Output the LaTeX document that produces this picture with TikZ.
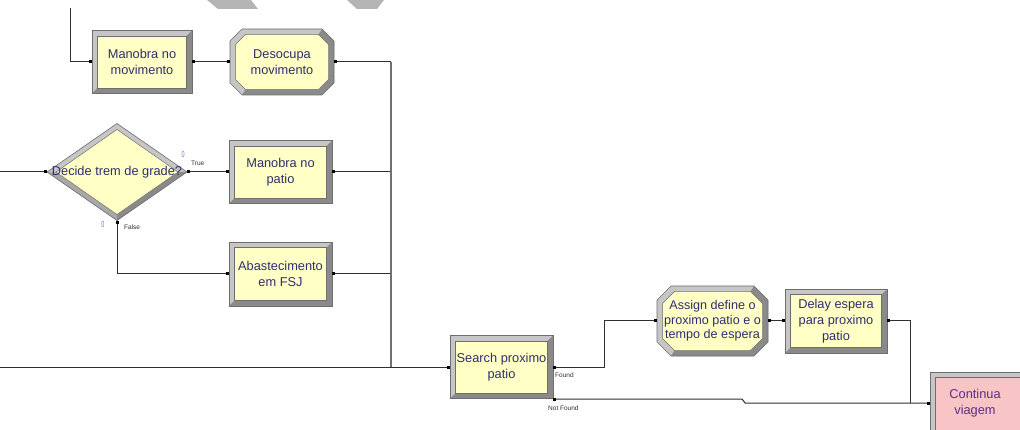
\documentclass[tikz,border=0pt]{standalone}
\usepackage{fontspec}
\setmainfont{Liberation Sans}
\usetikzlibrary{calc}
\definecolor{modyel}{HTML}{FFFFC6}
\definecolor{modpink}{HTML}{F8C4C6}
\definecolor{bevlt}{HTML}{C6C6C6}
\definecolor{bevmd}{HTML}{A8A8A8}
\definecolor{bevdk}{HTML}{8A8A8A}
\definecolor{bevedge}{HTML}{6E6E6E}
\definecolor{txtblue}{HTML}{2E2E70}
\definecolor{txtpurp}{HTML}{5A2E86}
\definecolor{wire}{HTML}{303030}
\definecolor{busgray}{HTML}{707070}
\definecolor{wmark}{HTML}{B4B4B4}
\definecolor{zeroblue}{HTML}{7474C4}

\newcommand\bevbox[5]{%
 \begin{scope}[shift={(#1,#2)}]
 \pgfmathsetmacro\ha{#3/2}\pgfmathsetmacro\hb{#4/2}%
 \pgfmathsetmacro\ia{\ha-5.5}\pgfmathsetmacro\ib{\hb-5.5}%
 \fill[bevlt] (-\ha,-\hb) rectangle (\ha,\hb);
 \fill[bevdk] (\ha,-\hb) -- (\ha,\hb) -- (-\ha,\hb) -- (-\ia,\ib) -- (\ia,\ib) -- (\ia,-\ib) -- cycle;
 \draw[bevedge,line width=0.6pt] (-\ha,-\hb) rectangle (\ha,\hb);
 \filldraw[fill=#5,draw=bevedge,line width=0.5pt] (-\ia,-\ib) rectangle (\ia,\ib);
 \end{scope}}

\newcommand\bevoct[6]{%
 \begin{scope}[shift={(#1,#2)}]
 \pgfmathsetmacro\ha{#3/2}\pgfmathsetmacro\hb{#4/2}%
 \pgfmathsetmacro\ia{\ha-5.5}\pgfmathsetmacro\ib{\hb-5.5}%
 \pgfmathsetmacro\cc{#5}\pgfmathsetmacro\ic{#5-2}%
 \fill[bevlt] (-\ha+\cc,-\hb) -- (\ha-\cc,-\hb) -- (\ha,-\hb+\cc) -- (\ha,\hb-\cc) -- (\ha-\cc,\hb) -- (-\ha+\cc,\hb) -- (-\ha,\hb-\cc) -- (-\ha,-\hb+\cc) -- cycle;
 \fill[bevdk] (\ha-\cc,-\hb) -- (\ha,-\hb+\cc) -- (\ha,\hb-\cc) -- (\ha-\cc,\hb) -- (-\ha+\cc,\hb) -- (-\ia+\ic,\ib) -- (\ia-\ic,\ib) -- (\ia,\ib-\ic) -- (\ia,-\ib+\ic) -- (\ia-\ic,-\ib) -- cycle;
 \draw[bevedge,line width=0.6pt] (-\ha+\cc,-\hb) -- (\ha-\cc,-\hb) -- (\ha,-\hb+\cc) -- (\ha,\hb-\cc) -- (\ha-\cc,\hb) -- (-\ha+\cc,\hb) -- (-\ha,\hb-\cc) -- (-\ha,-\hb+\cc) -- cycle;
 \filldraw[fill=#6,draw=bevedge,line width=0.5pt] (-\ia+\ic,-\ib) -- (\ia-\ic,-\ib) -- (\ia,-\ib+\ic) -- (\ia,\ib-\ic) -- (\ia-\ic,\ib) -- (-\ia+\ic,\ib) -- (-\ia,\ib-\ic) -- (-\ia,-\ib+\ic) -- cycle;
 \end{scope}}

\newcommand\bevdia[4]{%
 \begin{scope}[shift={(#1,#2)}]
 \pgfmathsetmacro\ha{#3/2}\pgfmathsetmacro\hb{#4/2}%
 \pgfmathsetmacro\ia{\ha-9}\pgfmathsetmacro\ib{\hb-6}%
 \fill[bevlt] (-\ha,0) -- (0,-\hb) -- (\ha,0) -- (0,\hb) -- cycle;
 \fill[bevmd] (-\ha,0) -- (0,\hb) -- (0,\ib) -- (-\ia,0) -- cycle;
 \fill[bevdk] (\ha,0) -- (0,\hb) -- (0,\ib) -- (\ia,0) -- cycle;
 \draw[bevedge,line width=0.6pt] (-\ha,0) -- (0,-\hb) -- (\ha,0) -- (0,\hb) -- cycle;
 \filldraw[fill=modyel,draw=bevedge,line width=0.5pt] (-\ia,0) -- (0,-\ib) -- (\ia,0) -- (0,\ib) -- cycle;
 \end{scope}}

\tikzset{
 modtext/.style={font=\fontsize{12.8}{16}\selectfont, text=txtblue, align=center, inner sep=0pt},
 wirel/.style={draw=wire, line width=1pt},
 busl/.style={draw=busgray, line width=1.8pt},
 port/.style={fill=black, inner sep=0pt, minimum size=3pt},
 lbl/.style={font=\fontsize{6.5}{7}\selectfont, text=wire, inner sep=0pt},
 zero/.style={font=\fontsize{9}{9}\selectfont, text=zeroblue, inner sep=0pt, xscale=0.6},
}

\begin{document}
\begin{tikzpicture}[x=1pt,y=-1pt]
\useasboundingbox (0,0) rectangle (1020,430);
\clip (0,0) rectangle (1020,430);
\fill[white] (0,0) rectangle (1020,430);
% watermark fragments
\fill[wmark] (207,0) -- (251,0) -- (258,9) -- (218,9) -- cycle;
\fill[wmark] (347,0) -- (384,0) -- (377,9) -- (357,9) -- cycle;

% module bodies
\bevbox{142}{62}{100}{63}{modyel}
\bevoct{282}{62}{104}{66}{12}{modyel}
\bevdia{117}{172}{140}{97}
\bevbox{280.5}{172}{103}{63}{modyel}
\bevbox{280.5}{274}{103}{64}{modyel}
\bevbox{501.5}{367}{103}{63}{modyel}
\bevoct{712.5}{321}{111}{70}{14}{modyel}
\bevbox{836}{321}{102}{64}{modyel}
\bevbox{980}{405}{100}{66}{modpink}

% module nodes
\node[modtext, minimum width=100pt, minimum height=63pt] (mm) at (142,62) {Manobra no\\movimento};
\node[modtext, minimum width=104pt, minimum height=66pt] (dm) at (282,62) {Desocupa\\movimento};
\node[modtext, minimum width=140pt, minimum height=97pt] (dc) at (117,172) {Decide trem de grade?};
\node[modtext, minimum width=103pt, minimum height=63pt] (mp) at (280.5,172) {Manobra no\\patio};
\node[modtext, minimum width=103pt, minimum height=64pt] (ab) at (280.5,274) {Abastecimento\\em FSJ};
\node[modtext, minimum width=103pt, minimum height=63pt] (sp) at (501.5,367) {Search proximo\\patio};
\node[modtext, font=\fontsize{12.6}{14.5}\selectfont, minimum width=111pt, minimum height=70pt] (as) at (712.5,321) {Assign define o\\proximo patio e o\\tempo de espera};
\node[modtext, minimum width=102pt, minimum height=64pt] (dl) at (836,321) {Delay espera\\para proximo\\patio};
\node[modtext, text=txtpurp, minimum width=90pt, minimum height=62pt] (ct) at (975,403) {Continua\\viagem};

% free ends
\coordinate (topin) at (70,8);
\coordinate (lin1) at (0,172);
\coordinate (lin2) at (0,367);
\coordinate (busb) at (391,367);
\coordinate (fnd) at (604,367);
\coordinate (nfs) at (553,399);
\coordinate (nfa) at (742,399);
\coordinate (nfb) at (745,403);
\coordinate (jn) at (910,403);

% connectors
\draw[wirel] (topin) |- (mm.west);
\draw[wirel] (mm.east) -- (dm.west);
\draw[wirel] (dm.east) -- (dm.east -| busb);
\draw[wirel] (mp.east) -- (mp.east -| busb);
\draw[wirel] (ab.east) -- (ab.east -| busb);
\draw[busl] (dm.east -| busb) -- (busb);
\draw[wirel] (lin2) -- (sp.west);
\draw[wirel] (lin1) -- (dc.west);
\draw[wirel] (dc.east) -- (mp.west);
\draw[wirel] (dc.south) |- (ab.west);
\draw[wirel] (sp.east) -- (fnd) |- (as.west);
\draw[wirel] (nfs) -- (nfa) -- (nfb) -- (ct.west);
\draw[wirel] (as.east) -- (dl.west);
\draw[wirel] (dl.east) -| (jn);

% ports
\node[port] (p1) at ([xshift=-1.5pt]mm.west) {};
\node[port] (p2) at ([xshift=1.5pt]mm.east) {};
\node[port] (p3) at ([xshift=-1.5pt]dm.west) {};
\node[port] (p4) at ([xshift=1.5pt]dm.east) {};
\node[port] (p5) at ([xshift=-1.5pt]dc.west) {};
\node[port] (p6) at ([xshift=1.5pt]dc.east) {};
\node[port] (p7) at ([yshift=-1.5pt]dc.south) {};
\node[port] (p8) at ([xshift=-1.5pt]mp.west) {};
\node[port] (p9) at ([xshift=1.5pt]mp.east) {};
\node[port] (p10) at ([xshift=-1.5pt]ab.west) {};
\node[port] (p11) at ([xshift=1.5pt]ab.east) {};
\node[port] (p12) at ([xshift=-1.5pt]sp.west) {};
\node[port] (p13) at ([xshift=1.5pt]sp.east) {};
\node[port] (p14) at ([xshift=1.5pt]nfs) {};
\node[port] (p15) at ([xshift=-1.5pt]as.west) {};
\node[port] (p16) at ([xshift=1.5pt]as.east) {};
\node[port] (p17) at ([xshift=-1.5pt]dl.west) {};
\node[port] (p18) at ([xshift=1.5pt]dl.east) {};
\node[port] (p19) at ([xshift=-1.5pt]ct.west) {};

% labels
\node[lbl, anchor=west] (tl) at (191,163) {True};
\node[lbl, anchor=west] (fl) at (124,227) {False};
\node[lbl, anchor=west] (fo) at (555,375) {Found};
\node[lbl, anchor=west] (nfl) at (548,408) {Not Found};
\node[zero] (z1) at (183,154) {0};
\node[zero] (z2) at (103,224) {0};
\end{tikzpicture}
\end{document}
